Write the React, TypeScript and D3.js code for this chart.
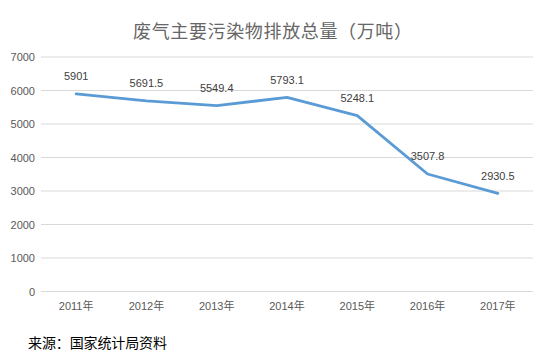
import React from "react";
import * as d3 from "d3";

const categories = ["2011年", "2012年", "2013年", "2014年", "2015年", "2016年", "2017年"];
const values = [5901, 5691.5, 5549.4, 5793.1, 5248.1, 3507.8, 2930.5];
const valueLabels = ["5901", "5691.5", "5549.4", "5793.1", "5248.1", "3507.8", "2930.5"];
const yTicks = [0, 1000, 2000, 3000, 4000, 5000, 6000, 7000];
const title = "废气主要污染物排放总量（万吨）";
const source = "来源：国家统计局资料";

export default function App() {
  const W = 557, H = 358;
  const left = 41, right = 533, top = 57, bottom = 291.5;
  const x = d3.scaleBand<string>().domain(categories).range([left, right]);
  const y = d3.scaleLinear().domain([0, 7000]).range([bottom, top]);
  const line = d3
    .line<number>()
    .x((_, i) => (x(categories[i]) as number) + x.bandwidth() / 2)
    .y((d) => y(d));
  const font = "'Liberation Sans', 'Noto Sans CJK SC', sans-serif";
  return (
    <svg
      width={W}
      height={H}
      style={{ position: "absolute", left: 0, top: 0, background: "#fff" }}
      fontFamily={font}
    >
      <rect width={W} height={H} fill="#fff" />
      <text x={133} y={29.5} textLength={279} lengthAdjust="spacing" dominantBaseline="central" fontSize={18} fill="#666666" fontFamily="'Noto Sans CJK SC', sans-serif">
        {title}
      </text>
      {yTicks.map((t) => (
        <g key={t}>
          <line x1={left} x2={right} y1={y(t)} y2={y(t)} stroke="#D9D9D9" strokeWidth={1} />
          <text x={35} y={y(t)} textAnchor="end" dominantBaseline="central" fontSize={11} fill="#595959">
            {t}
          </text>
        </g>
      ))}
      {categories.map((c) => (
        <text key={c} x={(x(c) as number) + x.bandwidth() / 2} y={306} textAnchor="middle" dominantBaseline="central" fontSize={11} fill="#595959">
          {c}
        </text>
      ))}
      <path d={line(values) || ""} fill="none" stroke="#5B9BD5" strokeWidth={2.8} strokeLinejoin="round" strokeLinecap="round" />
      {values.map((v, i) => (
        <text key={i} x={(x(categories[i]) as number) + x.bandwidth() / 2} y={y(v) - 17.5} textAnchor="middle" dominantBaseline="central" fontSize={11} fill="#404040">
          {valueLabels[i]}
        </text>
      ))}
      <text x={28} y={342} textLength={139} lengthAdjust="spacing" dominantBaseline="central" fontSize={14} fill="#000" fontFamily="'Noto Sans CJK SC', sans-serif">
        {source}
      </text>
    </svg>
  );
}
